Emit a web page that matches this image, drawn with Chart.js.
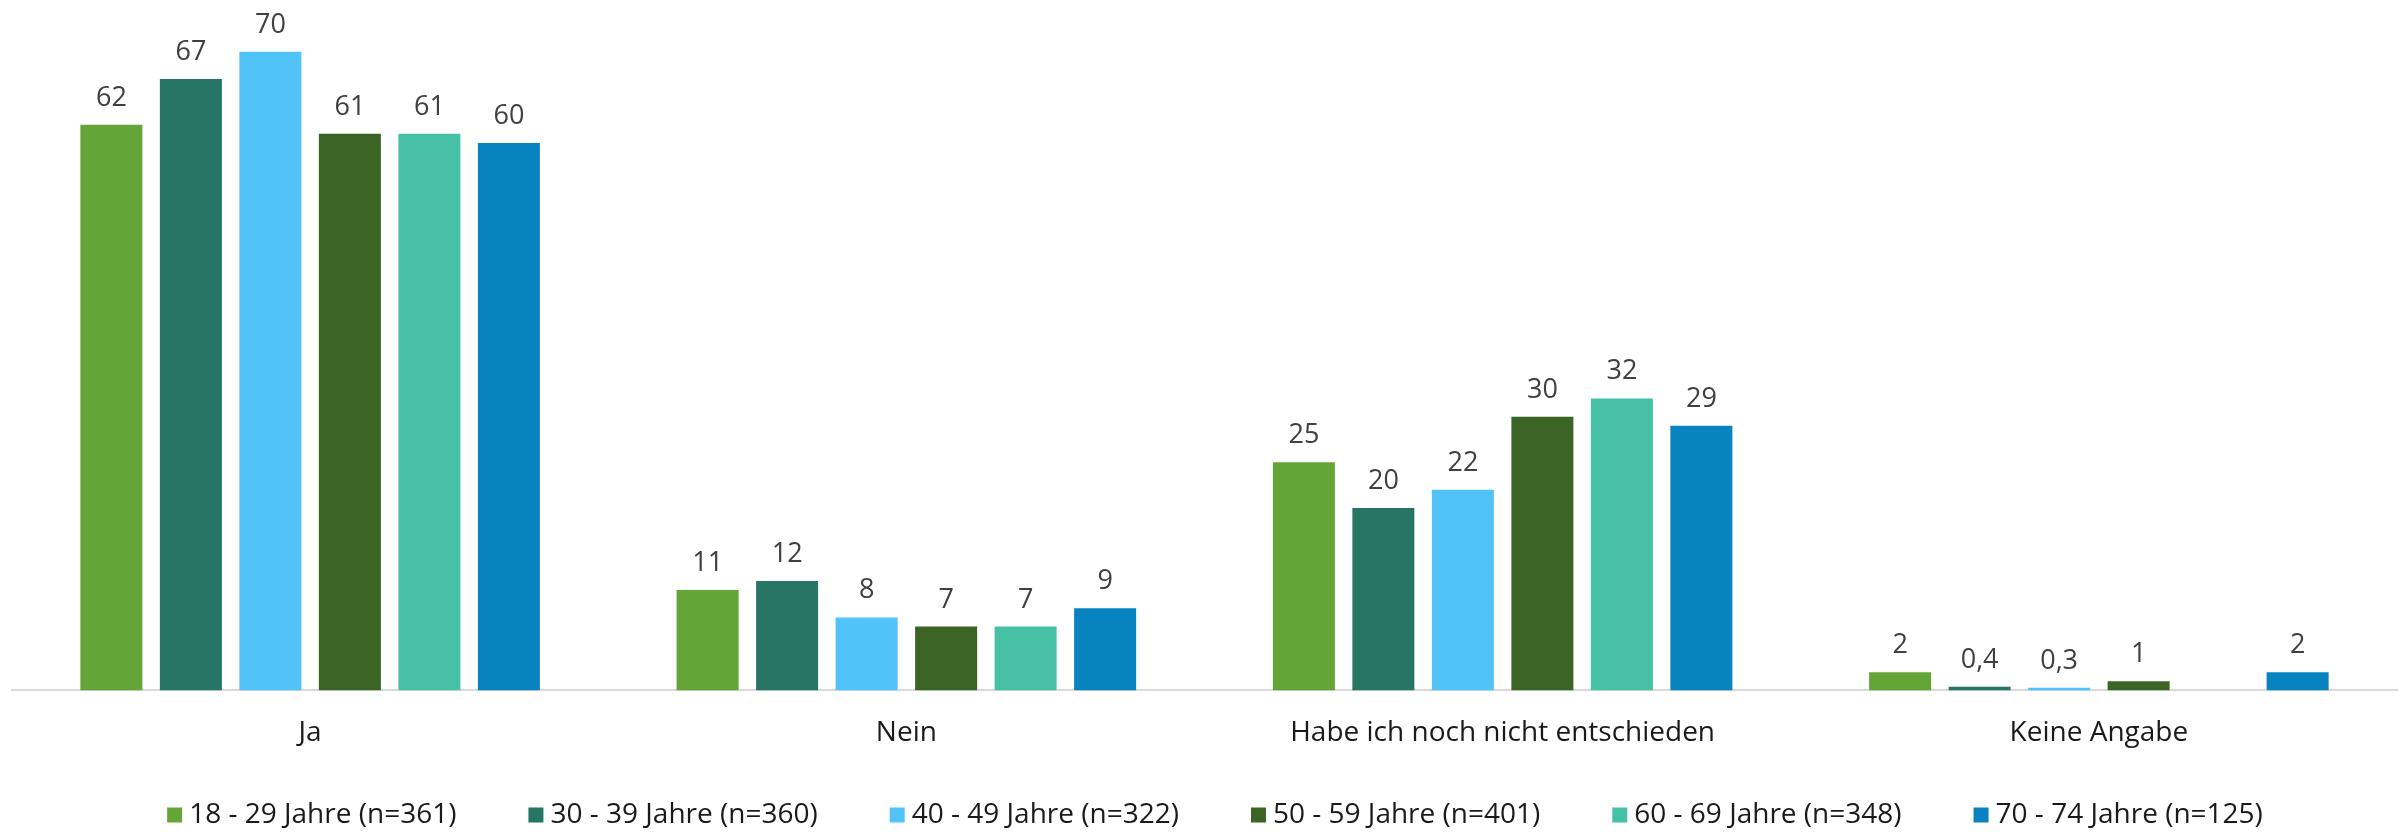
<!DOCTYPE html>
<html>
<head>
<meta charset="utf-8">
<script src="https://cdn.jsdelivr.net/npm/chart.js@4"></script>
<style>
  html, body { margin: 0; padding: 0; background: #fff; }
  #wrap { width: 2407px; height: 834px; }
</style>
</head>
<body>
<div id="wrap"><canvas id="chart"></canvas></div>
<script>
const categories = ['Ja', 'Nein', 'Habe ich noch nicht entschieden', 'Keine Angabe'];
const seriesNames = [
  '18 - 29 Jahre (n=361)',
  '30 - 39 Jahre (n=360)',
  '40 - 49 Jahre (n=322)',
  '50 - 59 Jahre (n=401)',
  '60 - 69 Jahre (n=348)',
  '70 - 74 Jahre (n=125)'
];
const age18 = [62, 11, 25, 2];
const age30 = [67, 12, 20, 0.4];
const age40 = [70, 8, 22, 0.3];
const age50 = [61, 7, 30, 1];
const age60 = [61, 7, 32, null];
const age70 = [60, 9, 29, 2];
const colors = ['#64a537', '#267565', '#52c3f7', '#3c6424', '#46c1a5', '#0983c0'];

const allSeries = [age18, age30, age40, age50, age60, age70];
const FONT = '"Open Sans", sans-serif';

// werte über den balken, deutsches komma
const valueLabels = {
  id: 'valueLabels',
  afterDatasetsDraw(chart) {
    const ctx = chart.ctx;
    ctx.save();
    ctx.font = '27px ' + FONT;
    ctx.fillStyle = '#404040';
    ctx.textAlign = 'center';
    ctx.textBaseline = 'alphabetic';
    chart.data.datasets.forEach((ds, i) => {
      chart.getDatasetMeta(i).data.forEach((bar, j) => {
        const v = ds.data[j];
        if (v === null || v === undefined) return;
        ctx.fillText(String(v).replace('.', ','), bar.x, bar.y - 19);
      });
    });
    ctx.restore();
  }
};

// legende unten, wie in excel
const bottomLegend = {
  id: 'bottomLegend',
  afterDraw(chart) {
    const ctx = chart.ctx;
    const box = 15, gapText = 7, itemGap = 72;
    ctx.save();
    ctx.font = '28px ' + FONT;
    ctx.textBaseline = 'middle';
    ctx.textAlign = 'left';
    const widths = seriesNames.map(n => ctx.measureText(n).width);
    const total = widths.reduce((a, w) => a + box + gapText + w, 0) + itemGap * (seriesNames.length - 1);
    let x = 1215 - total / 2;
    const y = 815;
    seriesNames.forEach((name, i) => {
      ctx.fillStyle = colors[i];
      ctx.fillRect(x, y - box / 2, box, box);
      ctx.fillStyle = '#1a1a1a';
      ctx.fillText(name, x + box + gapText, y);
      x += box + gapText + widths[i] + itemGap;
    });
    ctx.restore();
  }
};

new Chart(document.getElementById('chart'), {
  type: 'bar',
  data: {
    labels: categories,
    datasets: seriesNames.map((name, i) => ({
      label: name,
      data: allSeries[i],
      backgroundColor: colors[i],
      borderWidth: 0,
      categoryPercentage: 0.8,
      barPercentage: 0.78
    }))
  },
  options: {
    responsive: true,
    maintainAspectRatio: false,
    animation: false,
    layout: { padding: { top: 6, left: 12, right: 10, bottom: 58 } },
    plugins: {
      legend: { display: false },
      tooltip: { enabled: false }
    },
    scales: {
      x: {
        grid: { display: false, drawTicks: false },
        border: { display: true, color: '#d9d9d9', width: 2 },
        ticks: {
          padding: 26,
          color: '#1a1a1a',
          font: { family: FONT, size: 28 }
        }
      },
      y: {
        display: false,
        min: 0,
        max: 75
      }
    }
  },
  plugins: [valueLabels, bottomLegend]
});
</script>
</body>
</html>
